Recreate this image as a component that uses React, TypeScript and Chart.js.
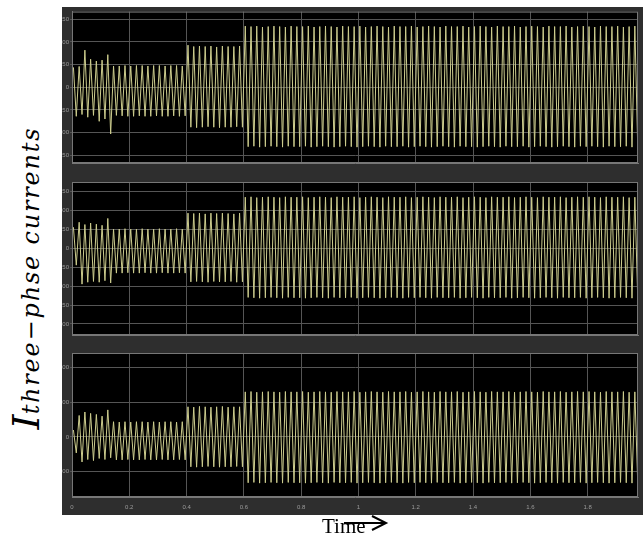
import React, { useEffect, useRef } from "react";
import { Chart, registerables } from "chart.js";

Chart.register(...registerables);

// ---- data ----
const HALF_PERIOD = 0.01; // s between successive peaks (50 Hz signal)
const X_MIN = 0;
const X_MAX = 1.976;
const X_TICKS = [0, 0.2, 0.4, 0.6, 0.8, 1, 1.2, 1.4, 1.6, 1.8];
const X_TICK_LABELS = ["0", "0.2", "0.4", "0.6", "0.8", "1", "1.2", "1.4", "1.6", "1.8"];

const Y_TICKS_A = [-150, -100, -50, 0, 50, 100, 150];
const Y_TICKS_B = [-200, -150, -100, -50, 0, 50, 100, 150];
const Y_TICKS_C = [-100, 0, 100, 200];

// positive / negative peaks of each phase current, one per cycle
const PHASE_A_POS = [
  44, 46, 82, 62, 58, 60, 72, 47, 47, 48, 47, 48, 48, 47, 48, 48, 47, 48, 48, 47,
  93, 90, 91, 90, 91, 89, 91, 90, 90, 91,
  135, 134, 135, 133, 134, 135, 134, 133, 135, 134,
  134, 135, 133, 134, 135, 134, 133, 135, 134, 134,
  135, 133, 134, 135, 134, 133, 135, 134, 134, 135,
  133, 134, 135, 134, 133, 135, 134, 134, 135, 133,
  134, 135, 134, 133, 135, 134, 134, 135, 133, 134,
  135, 134, 133, 135, 134, 134, 135, 133, 134, 135,
  134, 133, 135, 134, 134, 135, 133, 134, 135, 134,
];
const PHASE_A_NEG = [
  -64, -60, -66, -62, -75, -70, -103, -62, -63, -64, -64, -63, -64, -64, -63, -64, -64, -63, -64, -63,
  -88, -89, -88, -87, -88, -89, -88, -88, -87, -88,
  -131, -130, -132, -131, -130, -131, -132, -130, -131, -131,
  -130, -132, -131, -130, -131, -132, -131, -130, -131, -132,
  -131, -130, -131, -132, -130, -131, -131, -130, -132, -131,
  -130, -131, -132, -131, -130, -131, -132, -130, -131, -131,
  -132, -131, -130, -131, -132, -130, -131, -131, -130, -132,
  -131, -130, -131, -132, -131, -130, -131, -132, -130, -131,
  -130, -131, -132, -130, -131, -131, -130, -132, -131, -130,
];

const PHASE_B_POS = [
  55, 68, 62, 66, 63, 60, 78, 50, 50, 51, 50, 50, 51, 50, 50, 51, 50, 50, 51, 50,
  92, 91, 92, 90, 92, 91, 92, 91, 90, 92,
  134, 135, 133, 134, 135, 134, 133, 135, 134, 134,
  135, 133, 134, 135, 134, 133, 135, 134, 134, 135,
  133, 134, 135, 134, 133, 135, 134, 134, 135, 133,
  134, 135, 134, 133, 135, 134, 134, 135, 133, 134,
  135, 134, 133, 135, 134, 134, 135, 133, 134, 135,
  134, 133, 135, 134, 134, 135, 133, 134, 135, 134,
  135, 134, 133, 135, 134, 134, 135, 133, 134, 135,
];
const PHASE_B_NEG = [
  -45, -95, -90, -88, -90, -86, -92, -66, -66, -65, -66, -66, -65, -66, -66, -65, -66, -66, -65, -66,
  -89, -88, -89, -90, -88, -89, -89, -88, -90, -89,
  -130, -131, -132, -131, -130, -131, -132, -130, -131, -131,
  -132, -131, -130, -131, -132, -130, -131, -131, -130, -132,
  -131, -130, -131, -132, -131, -130, -131, -132, -130, -131,
  -130, -131, -132, -130, -131, -131, -130, -132, -131, -130,
  -131, -132, -130, -131, -131, -130, -132, -131, -130, -131,
  -132, -131, -130, -131, -132, -130, -131, -131, -130, -132,
  -131, -130, -131, -132, -131, -130, -131, -132, -130, -131,
];

const PHASE_C_POS = [
  20, 62, 72, 68, 65, 60, 78, 44, 43, 44, 43, 44, 44, 43, 44, 43, 44, 44, 43, 44,
  87, 86, 88, 87, 86, 87, 88, 86, 87, 87,
  130, 131, 129, 130, 131, 130, 129, 131, 130, 130,
  131, 129, 130, 131, 130, 129, 131, 130, 130, 131,
  129, 130, 131, 130, 129, 131, 130, 130, 131, 129,
  130, 131, 130, 129, 131, 130, 130, 131, 129, 130,
  131, 130, 129, 131, 130, 130, 131, 129, 130, 131,
  130, 129, 131, 130, 130, 131, 129, 130, 131, 130,
  131, 130, 129, 131, 130, 130, 131, 129, 130, 131,
];
const PHASE_C_NEG = [
  -46, -72, -65, -68, -62, -65, -60, -66, -66, -65, -66, -66, -65, -66, -66, -65, -66, -66, -65, -66,
  -86, -87, -86, -85, -86, -87, -86, -86, -85, -86,
  -132, -131, -133, -132, -131, -132, -133, -131, -132, -132,
  -133, -132, -131, -132, -133, -131, -132, -132, -131, -133,
  -132, -131, -132, -133, -132, -131, -132, -133, -131, -132,
  -131, -132, -133, -131, -132, -132, -131, -133, -132, -131,
  -132, -133, -131, -132, -132, -131, -133, -132, -131, -132,
  -133, -132, -131, -132, -133, -131, -132, -132, -131, -133,
  -132, -131, -132, -133, -132, -131, -132, -133, -131, -132,
];

// ---- styles ----
const PANEL_BG = "#2e2e2e";
const PLOT_BG = "#000000";
const GRID = "#555555";
const FRAME = "#777777";
const TICK_TEXT = "#9a9a9a";
const TRACE = "#cdcd8e";

function buildPoints(pos: number[], neg: number[]) {
  const pts: { x: number; y: number }[] = [];
  for (let k = 0; k < pos.length; k++) {
    pts.push({ x: (2 * k + 0.5) * HALF_PERIOD, y: pos[k] });
    pts.push({ x: (2 * k + 1.5) * HALF_PERIOD, y: neg[k] });
  }
  return pts;
}

const plotBgPlugin = {
  id: "plotBg",
  beforeDraw(chart: any) {
    const { ctx, chartArea } = chart;
    if (!chartArea) return;
    ctx.save();
    ctx.fillStyle = PLOT_BG;
    ctx.fillRect(chartArea.left, chartArea.top, chartArea.right - chartArea.left, chartArea.bottom - chartArea.top);
    ctx.restore();
  },
  afterDraw(chart: any) {
    const { ctx, chartArea } = chart;
    ctx.save();
    ctx.strokeStyle = FRAME;
    ctx.lineWidth = 1;
    ctx.strokeRect(chartArea.left + 0.5, chartArea.top + 0.5, chartArea.right - chartArea.left - 1, chartArea.bottom - chartArea.top - 1);
    ctx.restore();
  },
};

type PanelProps = {
  top: number;
  height: number;
  pos: number[];
  neg: number[];
  yMin: number;
  yMax: number;
  yTicks: number[];
  showX: boolean;
  padTop: number;
  padBottom: number;
};

const LEFT = 62;
const WIDTH = 581;

function Panel(p: PanelProps) {
  const ref = useRef<HTMLCanvasElement | null>(null);
  useEffect(() => {
    if (!ref.current) return;
    const chart = new Chart(ref.current, {
      type: "line",
      data: {
        datasets: [
          {
            data: buildPoints(p.pos, p.neg),
            borderColor: TRACE,
            borderWidth: 1,
            pointRadius: 0,
            tension: 0,
            fill: false,
          },
        ],
      },
      options: {
        animation: false,
        responsive: false,
        devicePixelRatio: 1,
        parsing: false as any,
        layout: { padding: { top: p.padTop, bottom: p.padBottom, left: 0, right: 5 } },
        plugins: { legend: { display: false }, tooltip: { enabled: false } },
        scales: {
          x: {
            type: "linear",
            min: X_MIN,
            max: X_MAX,
            afterBuildTicks: (s: any) => {
              s.ticks = X_TICKS.map((v) => ({ value: v }));
            },
            afterFit: (s: any) => {
              s.height = p.showX ? 18 : 0;
            },
            grid: { color: GRID, lineWidth: 1, drawTicks: false },
            border: { color: FRAME },
            ticks: {
              display: p.showX,
              color: TICK_TEXT,
              padding: 7,
              maxRotation: 0,
              autoSkip: false,
              font: { size: 6, family: "Liberation Sans" },
              callback: (v: any) => {
                const i = X_TICKS.findIndex((t) => Math.abs(t - v) < 1e-9);
                return i >= 0 ? X_TICK_LABELS[i] : "";
              },
            },
          },
          y: {
            type: "linear",
            min: p.yMin,
            max: p.yMax,
            afterBuildTicks: (s: any) => {
              s.ticks = p.yTicks.map((v) => ({ value: v }));
            },
            afterFit: (s: any) => {
              s.width = 10;
            },
            grid: { color: GRID, lineWidth: 1, tickLength: 2, tickColor: GRID },
            border: { color: FRAME },
            ticks: {
              color: TICK_TEXT,
              padding: 1,
              autoSkip: false,
              font: { size: 6, family: "Liberation Sans" },
              callback: (v: any) => String(v),
            },
          },
        },
      },
      plugins: [plotBgPlugin],
    });
    return () => chart.destroy();
  }, []);
  return (
    <canvas
      ref={ref}
      width={WIDTH}
      height={p.height}
      style={{
        position: "absolute",
        left: LEFT,
        top: p.top,
        width: WIDTH,
        height: p.height,
        background: PANEL_BG,
        display: "block",
      }}
    />
  );
}

export default function App() {
  return (
    <div>
      <Panel top={7} height={165} pos={PHASE_A_POS} neg={PHASE_A_NEG} yMin={-167} yMax={167} yTicks={Y_TICKS_A} showX={false} padTop={2} padBottom={9} />
      <Panel top={172} height={172} pos={PHASE_B_POS} neg={PHASE_B_NEG} yMin={-229} yMax={174} yTicks={Y_TICKS_B} showX={false} padTop={10} padBottom={9} />
      <Panel top={344} height={171} pos={PHASE_C_POS} neg={PHASE_C_NEG} yMin={-173} yMax={242} yTicks={Y_TICKS_C} showX={true} padTop={9} padBottom={0} />

      <div
        style={{
          position: "absolute",
          left: 26 - 180,
          top: 278 - 25,
          width: 360,
          height: 50,
          lineHeight: "50px",
          textAlign: "center",
          whiteSpace: "nowrap",
          transform: "rotate(-90deg)",
          fontFamily: "'DejaVu Serif', serif",
          fontStyle: "italic",
          color: "#000",
        }}
      >
        <span style={{ fontSize: 38 }}>I</span>
        <span style={{ fontSize: 24, letterSpacing: 1.8 }}>three−phse currents</span>
      </div>

      <div
        style={{
          position: "absolute",
          left: 322,
          top: 513,
          fontFamily: "'Liberation Serif', serif",
          fontSize: 21,
          lineHeight: "26px",
          color: "#000",
        }}
      >
        Time
      </div>
      <svg style={{ position: "absolute", left: 320, top: 512, overflow: "visible" }} width={70} height={20}>
        <line x1={24} y1={11} x2={66} y2={11} stroke="#000" strokeWidth={2} />
        <polyline points="52,4 66,11 52,18" fill="none" stroke="#000" strokeWidth={2} />
      </svg>
    </div>
  );
}
